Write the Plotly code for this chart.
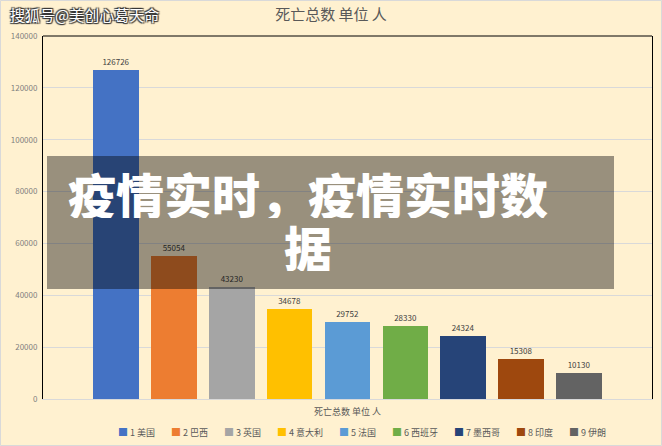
import plotly.graph_objects as go

names = ["1 美国", "2 巴西", "3 英国", "4 意大利", "5 法国", "6 西班牙", "7 墨西哥", "8 印度", "9 伊朗"]
deaths = [126726, 55054, 43230, 34678, 29752, 28330, 24324, 15308, 10130]
colors = ["#4472C4", "#ED7D31", "#A5A5A5", "#FFC000", "#5B9BD5", "#70AD47", "#264478", "#9E480E", "#636363"]
y_ticks = [0, 20000, 40000, 60000, 80000, 100000, 120000, 140000]

BG = "#FFF1D0"
W, H = 662, 446
L, R, T, B = 43, 10, 36, 47
PW, PH = W - L - R, H - T - B

def px(xp):
    return (xp - L) / PW

def py(yp):
    return 1 - (yp - T) / PH

fig = go.Figure()
for i, (n, v, c) in enumerate(zip(names, deaths, colors)):
    fig.add_trace(go.Bar(
        x=[i], y=[v], name=n, marker=dict(color=c, line=dict(width=0)),
        width=0.79, text=[str(v)], textposition="outside",
        textfont=dict(size=8, color="#404040", family="Noto Sans CJK SC"),
        cliponaxis=False, showlegend=False,
    ))
for k, (n, c) in enumerate(zip(names, colors)):
    lw = 8 + 9 * (len(n) - 4)
    if k == len(names) - 1:
        lw = 36
    fig.add_trace(go.Scatter(
        x=[None], y=[None], mode="markers",
        name=f'<span style="color:{c};font-size:10px">■</span> {n}',
        marker=dict(size=1, color="rgba(0,0,0,0)"),
        legendwidth=lw,
    ))

fig.update_layout(
    width=W, height=H,
    margin=dict(l=L, r=R, t=T, b=B, autoexpand=False),
    paper_bgcolor=BG, plot_bgcolor=BG,
    font=dict(family="Noto Sans CJK SC", color="#595959"),
    title=dict(text="死亡总数 单位 人", x=0.5, xanchor="center", y=1 - 15 / H,
               yanchor="middle", font=dict(size=15, color="#595959")),
    showlegend=True,
    legend=dict(orientation="h", x=px(78), xanchor="left", y=py(432), yanchor="middle",
                font=dict(size=9, color="#595959"), bgcolor="rgba(0,0,0,0)",
                itemwidth=30, tracegroupgap=0),
    xaxis=dict(range=[-1.26, 9.26], showticklabels=False, showgrid=False, zeroline=False,
               showline=True, linecolor="#D9D9D9", linewidth=1, automargin=True,
               title=dict(text="死亡总数 单位 人", font=dict(size=9, color="#595959"), standoff=9)),
    yaxis=dict(range=[0, 140000], tickvals=y_ticks, ticktext=[str(t) for t in y_ticks],
               tickfont=dict(size=8, color="#7F7F7F"), showgrid=True, gridcolor="#D9D9D9",
               ticklabelstandoff=3,
               zeroline=False, showline=True, mirror=True, linecolor="#000000", linewidth=1),
    bargap=0,
)

# top frame line of plot area
fig.add_shape(type="line", xref="paper", yref="paper", x0=0, x1=1, y0=1, y1=1,
              line=dict(color="#000000", width=1), layer="above")
# outer image border
fig.add_shape(type="rect", xref="paper", yref="paper",
              x0=px(0.5), x1=px(W - 0.5), y0=py(H - 0.5), y1=py(0.5),
              line=dict(color="#D9D9D9", width=1), layer="above")
# translucent overlay box
fig.add_shape(type="rect", xref="paper", yref="paper",
              x0=px(47), x1=px(614), y0=py(289), y1=py(156),
              fillcolor="rgba(0,0,0,0.4)", line=dict(width=0), layer="above")

fig.add_annotation(text="疫情实时，疫情实时数", xref="paper", yref="paper",
                   x=px(307.5), y=py(193), xanchor="center", yanchor="middle", showarrow=False,
                   height=50,
                   font=dict(size=48, color="#FFFFFF", family="Noto Sans CJK SC", weight=900))
fig.add_annotation(text="据", xref="paper", yref="paper",
                   x=px(308), y=py(246), xanchor="center", yanchor="middle", showarrow=False,
                   height=50,
                   font=dict(size=48, color="#FFFFFF", family="Noto Sans CJK SC", weight=900))
fig.add_annotation(text="搜狐号@美创心葛天命", xref="paper", yref="paper",
                   x=px(8), y=py(14), xanchor="left", yanchor="middle", showarrow=False,
                   font=dict(size=15, color="#FFFFFF", family="Noto Sans CJK SC",
                             shadow="1px 1px 1px #333, -1px -1px 1px #333, 1px -1px 1px #333, -1px 1px 1px #333"))

fig.write_html("out.html")
